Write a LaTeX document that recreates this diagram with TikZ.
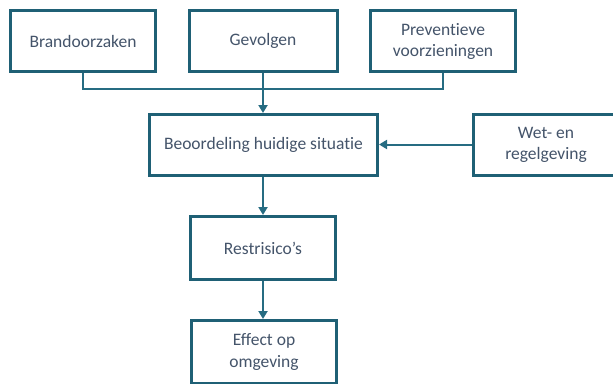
\documentclass[tikz,border=0pt]{standalone}
\usepackage{fontspec}
\setmainfont{Carlito}[RawFeature={-liga}]
\usepackage{tikz}
\usetikzlibrary{arrows.meta}

\definecolor{boxteal}{RGB}{31,96,117}
\definecolor{linkteal}{RGB}{38,108,130}
\definecolor{textslate}{RGB}{68,84,106}

\begin{document}
\begin{tikzpicture}[x=1pt, y=-1pt,
    every node/.style={font=\fontsize{17.5}{21}\selectfont, text=textslate},
    box/.style={draw=boxteal, line width=3pt, fill=white, rectangle, inner sep=0pt,
        align=center, minimum width=145pt, minimum height=61pt},
    link/.style={draw=linkteal, line width=2pt},
    arrow/.style={link, -{Triangle[length=8pt, width=9pt]}}]
    \useasboundingbox (0,0) rectangle (613,383);
    \clip (0,0) rectangle (613,383);

    % boxes
    \node[box] (brand) at (83,41) {Brandoorzaken};
    \node[box, minimum width=148pt] (gevolg) at (263,41) {Gevolgen};
    \node[box] (prevent) at (443,41) {Preventieve\\voorzieningen};
    \node[box, minimum width=228pt] (beoord) at (263.5,145) {Beoordeling huidige situatie};
    \node[box, minimum width=145pt] (wet) at (546,144.5) {Wet- en\\regelgeving};
    \node[box, minimum height=63pt] (rest) at (263,248) {Restrisico’s};
    \node[box, minimum width=145pt, minimum height=63pt] (effect) at (264,352) {Effect op\\omgeving};

    % connectors
    \coordinate (join) at (263,89);
    \draw[link] (brand.south) |- (join) -| (prevent.south);
    \draw[arrow] (gevolg.south) -- (gevolg.south |- beoord.north);
    \draw[arrow] (wet.west) -- (wet.west -| beoord.east);
    \draw[arrow] (beoord.south -| rest.north) -- (rest.north);
    \draw[arrow] (rest.south) -- (rest.south |- effect.north);

\end{tikzpicture}
\end{document}
